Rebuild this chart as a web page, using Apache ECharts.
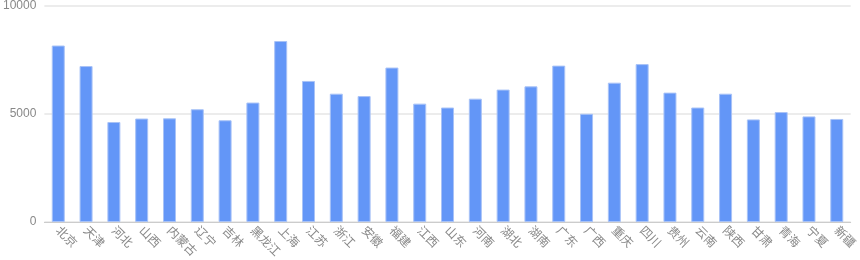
<!DOCTYPE html>
<html><head><meta charset="utf-8">
<script src="https://cdn.jsdelivr.net/npm/echarts@6/dist/echarts.min.js"></script>
<style>html,body{margin:0;padding:0;background:#fff}#c{width:860px;height:260px}</style>
</head><body><div id="c"></div>
<script>
const categories = ['北京','天津','河北','山西','内蒙古','辽宁','吉林','黑龙江','上海','江苏','浙江','安徽','福建','江西','山东','河南','湖北','湖南','广东','广西','重庆','四川','贵州','云南','陕西','甘肃','青海','宁夏','新疆'];
const values = [8170,7220,4630,4790,4800,5220,4710,5530,8380,6530,5940,5830,7150,5480,5300,5710,6130,6280,7240,5010,6450,7310,5990,5300,5940,4750,5090,4890,4770];
const yMin = 0, yMax = 10000, yInterval = 5000;
const chart = echarts.init(document.getElementById('c'));
chart.setOption({
  animation: false,
  grid: {left: 41, right: 6, top: 6, bottom: 38, containLabel: false},
  xAxis: {
    type: 'category', data: categories,
    axisLine: {lineStyle: {color: '#ccc'}},
    axisTick: {alignWithLabel: true, lineStyle: {color: '#ccc'}},
    axisLabel: {rotate: -45, interval: 0, color: '#888', fontSize: 12, fontFamily: 'Noto Sans CJK SC', margin: 6}
  },
  yAxis: {
    type: 'value', min: yMin, max: yMax, interval: yInterval,
    axisLine: {show: false}, axisTick: {show: false},
    axisLabel: {color: '#888', fontSize: 12, margin: 8, formatter: v => String(v)},
    splitLine: {lineStyle: {color: '#e6e6e6', width: 1.5}}
  },
  series: [{
    type: 'bar', data: values, barWidth: 13,
    itemStyle: {color: '#6396F7', borderColor: '#A9C3F7', borderWidth: 1}
  }]
});
</script></body></html>
